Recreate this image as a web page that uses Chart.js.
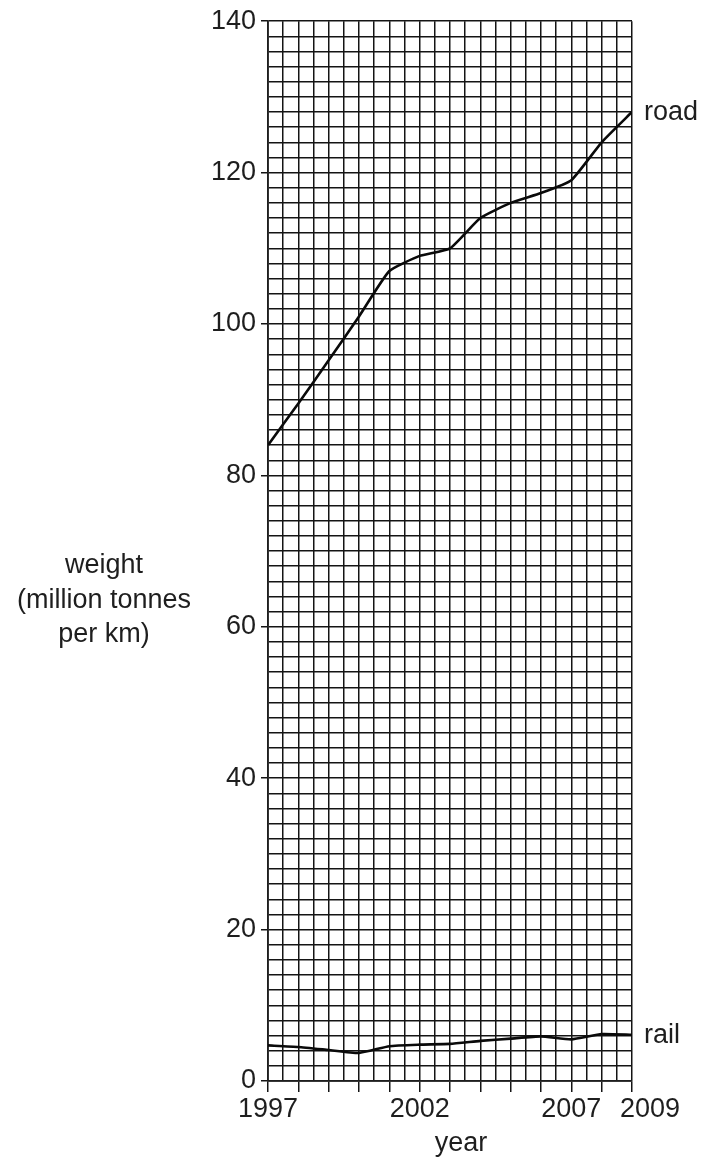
<!DOCTYPE html>
<html lang="en">
<head>
    <title>Road and rail freight</title>
    <script src="https://cdn.jsdelivr.net/npm/chart.js"></script>
    <style>
        body { margin: 0; padding: 0; background: #fff; }
        #wrap { width: 703px; height: 1161px; }
    </style>
</head>
<body>
    <div id="wrap"><canvas id="freightChart" width="703" height="1161"></canvas></div>
    <script>
        // values
        const years = [1997, 1998, 1999, 2000, 2001, 2002, 2003, 2004, 2005, 2006, 2007, 2008, 2009];
        const road = [84, 89.5, 95.2, 101, 107, 109, 110, 114, 116, 117.3, 119, 124, 128];
        const rail = [4.7, 4.5, 4.1, 3.7, 4.6, 4.8, 4.9, 5.3, 5.6, 5.9, 5.5, 6.2, 6.1];
        const seriesNames = ["road", "rail"];
        const xLabels = [1997, 2002, 2007, 2009];
        const yTitle = ["weight", "(million tonnes", "per km)"];
        const xTitle = "year";

        const ink = "#1e1e1e";
        const gridInk = "#141414";
        const family = "'Liberation Sans', Arial, sans-serif";
        const font = "27px " + family;

        const textPlugin = {
            id: "paperText",
            afterDraw(chart) {
                const c = chart.ctx;
                const xs = chart.scales.x;
                const area = chart.chartArea;
                c.save();
                c.fillStyle = ink;
                c.font = font;
                c.textBaseline = "alphabetic";

                // x labels (2009 is nudged right so it clears 2007)
                xLabels.forEach((yr, i) => {
                    const px = xs.getPixelForValue(yr);
                    if (i === xLabels.length - 1) {
                        c.textAlign = "left";
                        c.fillText(String(yr), px - 12, 1117);
                    } else {
                        c.textAlign = "center";
                        c.fillText(String(yr), px, 1117);
                    }
                });

                c.textAlign = "center";
                c.fillText(xTitle, (area.left + area.right) / 2 + 11, 1151);

                yTitle.forEach((line, i) => {
                    c.fillText(line, 104, 573 + i * 34.5);
                });

                // series names at the end of each line
                chart.data.datasets.forEach((ds, i) => {
                    const meta = chart.getDatasetMeta(i);
                    const last = meta.data[meta.data.length - 1];
                    c.textAlign = "left";
                    c.fillText(seriesNames[i], last.x + 12, last.y + 8);
                });
                c.restore();
            }
        };

        const ctx = document.getElementById("freightChart").getContext("2d");
        new Chart(ctx, {
            type: "line",
            data: {
                datasets: [road, rail].map((vals, i) => ({
                    label: seriesNames[i],
                    data: years.map((yr, j) => ({ x: yr, y: vals[j] })),
                    borderColor: "#0a0a0a",
                    borderWidth: 2.6,
                    pointRadius: 0,
                    tension: 0.15,
                    fill: false
                }))
            },
            options: {
                responsive: false,
                animation: false,
                devicePixelRatio: 1,
                layout: { padding: { left: 0, right: 71, top: 21, bottom: 0 } },
                plugins: {
                    legend: { display: false },
                    tooltip: { enabled: false }
                },
                scales: {
                    x: {
                        type: "linear",
                        min: 1997,
                        max: 2009,
                        afterFit: (s) => { s.height = 80; },
                        ticks: {
                            stepSize: 0.5,
                            autoSkip: false,
                            maxRotation: 0,
                            callback: () => ""
                        },
                        grid: {
                            color: gridInk,
                            lineWidth: 1.5,
                            tickLength: 11,
                            tickColor: (c) => (c.tick && c.tick.value % 1 === 0 ? gridInk : "rgba(0,0,0,0)")
                        },
                        border: { color: ink, width: 1.8 }
                    },
                    y: {
                        min: 0,
                        max: 140,
                        afterFit: (s) => { s.width = 268; },
                        ticks: {
                            stepSize: 2,
                            autoSkip: false,
                            padding: 5,
                            color: ink,
                            font: { family: family, size: 27 },
                            callback: (v) => (v % 20 === 0 ? v : "")
                        },
                        grid: {
                            color: gridInk,
                            lineWidth: 1.5,
                            tickLength: 7,
                            tickColor: (c) => (c.tick && c.tick.value % 20 === 0 ? gridInk : "rgba(0,0,0,0)")
                        },
                        border: { color: ink, width: 1.8 }
                    }
                }
            },
            plugins: [textPlugin]
        });
    </script>
</body>
</html>
